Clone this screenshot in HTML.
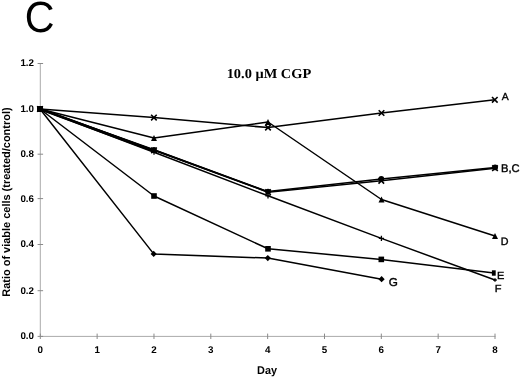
<!DOCTYPE html>
<html><head><meta charset="utf-8"><style>
html,body{margin:0;padding:0;background:#fff;width:520px;height:378px;overflow:hidden}
svg{display:block;will-change:transform}
text{text-rendering:geometricPrecision}
.tk{font-family:"Liberation Sans",sans-serif;font-size:9.8px;font-weight:bold;fill:#000}
.lb{font-family:"Liberation Sans",sans-serif;fill:#000;stroke:#000;stroke-width:0.35px}
.ax{font-family:"Liberation Sans",sans-serif;font-weight:bold;fill:#000}
.ti{font-family:"Liberation Serif",serif;font-weight:bold;fill:#000}
.big{font-family:"Liberation Sans",sans-serif;fill:#000}
</style></head><body>
<svg width="520" height="378" viewBox="0 0 520 378">
<line x1="40.3" y1="63" x2="40.3" y2="336.4" stroke="#ababab" stroke-width="1"/>
<line x1="40.3" y1="336.4" x2="495.5" y2="336.4" stroke="#ababab" stroke-width="1"/>
<line x1="37.6" y1="336.40" x2="43.1" y2="336.40" stroke="#8a8a8a" stroke-width="1"/>
<text x="34" y="339.30" class="tk" text-anchor="end">0.0</text>
<line x1="37.6" y1="290.70" x2="43.1" y2="290.70" stroke="#8a8a8a" stroke-width="1"/>
<text x="34" y="293.60" class="tk" text-anchor="end">0.2</text>
<line x1="37.6" y1="244.50" x2="43.1" y2="244.50" stroke="#8a8a8a" stroke-width="1"/>
<text x="34" y="247.40" class="tk" text-anchor="end">0.4</text>
<line x1="37.6" y1="198.60" x2="43.1" y2="198.60" stroke="#8a8a8a" stroke-width="1"/>
<text x="34" y="201.50" class="tk" text-anchor="end">0.6</text>
<line x1="37.6" y1="154.20" x2="43.1" y2="154.20" stroke="#8a8a8a" stroke-width="1"/>
<text x="34" y="157.10" class="tk" text-anchor="end">0.8</text>
<line x1="37.6" y1="108.85" x2="43.1" y2="108.85" stroke="#8a8a8a" stroke-width="1"/>
<text x="34" y="111.75" class="tk" text-anchor="end">1.0</text>
<line x1="37.6" y1="63.50" x2="43.1" y2="63.50" stroke="#8a8a8a" stroke-width="1"/>
<text x="34" y="66.40" class="tk" text-anchor="end">1.2</text>
<line x1="40.30" y1="333.6" x2="40.30" y2="339" stroke="#8a8a8a" stroke-width="1"/>
<text x="40.30" y="353" class="tk" text-anchor="middle">0</text>
<line x1="97.14" y1="333.6" x2="97.14" y2="339" stroke="#8a8a8a" stroke-width="1"/>
<text x="97.14" y="353" class="tk" text-anchor="middle">1</text>
<line x1="153.97" y1="333.6" x2="153.97" y2="339" stroke="#8a8a8a" stroke-width="1"/>
<text x="153.97" y="353" class="tk" text-anchor="middle">2</text>
<line x1="210.81" y1="333.6" x2="210.81" y2="339" stroke="#8a8a8a" stroke-width="1"/>
<text x="210.81" y="353" class="tk" text-anchor="middle">3</text>
<line x1="267.65" y1="333.6" x2="267.65" y2="339" stroke="#8a8a8a" stroke-width="1"/>
<text x="267.65" y="353" class="tk" text-anchor="middle">4</text>
<line x1="324.49" y1="333.6" x2="324.49" y2="339" stroke="#8a8a8a" stroke-width="1"/>
<text x="324.49" y="353" class="tk" text-anchor="middle">5</text>
<line x1="381.32" y1="333.6" x2="381.32" y2="339" stroke="#8a8a8a" stroke-width="1"/>
<text x="381.32" y="353" class="tk" text-anchor="middle">6</text>
<line x1="438.16" y1="333.6" x2="438.16" y2="339" stroke="#8a8a8a" stroke-width="1"/>
<text x="438.16" y="353" class="tk" text-anchor="middle">7</text>
<line x1="495.00" y1="333.6" x2="495.00" y2="339" stroke="#8a8a8a" stroke-width="1"/>
<text x="495.00" y="353" class="tk" text-anchor="middle">8</text>
<polyline points="40,109 153.9,117.6 268,127.6 381.5,113 494.8,99.8" fill="none" stroke="#000" stroke-width="1.5" stroke-linejoin="round"/>
<polyline points="40,109 154,138 268,122 381.5,199.5 495,236" fill="none" stroke="#000" stroke-width="1.5" stroke-linejoin="round"/>
<polyline points="40,109 154,196 268,248.8 381.3,259.4 494,273" fill="none" stroke="#000" stroke-width="1.5" stroke-linejoin="round"/>
<polyline points="40,109 153.7,253.9 267.8,258.1 381.6,279.2" fill="none" stroke="#000" stroke-width="1.5" stroke-linejoin="round"/>
<polyline points="40,109 154,149.8 268,191.6 381.3,179 495.1,167.4" fill="none" stroke="#000" stroke-width="1.5" stroke-linejoin="round"/>
<polyline points="40,109 154,150.3 268,192.2 381.3,180.8 495,168.2" fill="none" stroke="#000" stroke-width="1.5" stroke-linejoin="round"/>
<polyline points="40,109 154,152.2 268,195.8 381.4,238.4 495,280" fill="none" stroke="#000" stroke-width="1.5" stroke-linejoin="round"/>
<polyline points="40,109 154,151.0" fill="none" stroke="#000" stroke-width="2.4" stroke-linejoin="round"/>
<polyline points="154.0,150.05 268.0,191.89999999999998" fill="none" stroke="#000" stroke-width="1.6" stroke-linejoin="round"/>
<path d="M37.2,106.2L42.8,111.8M37.2,111.8L42.8,106.2" stroke="#000" stroke-width="1.6"/>
<path d="M151.1,114.8L156.70000000000002,120.39999999999999M151.1,120.39999999999999L156.70000000000002,114.8" stroke="#000" stroke-width="1.6"/>
<path d="M265.2,124.8L270.8,130.4M265.2,130.4L270.8,124.8" stroke="#000" stroke-width="1.6"/>
<path d="M378.7,110.2L384.3,115.8M378.7,115.8L384.3,110.2" stroke="#000" stroke-width="1.6"/>
<path d="M492.0,97.0L497.6,102.6M492.0,102.6L497.6,97.0" stroke="#000" stroke-width="1.6"/>
<path d="M40,106.1L43.0,111.9L37.0,111.9Z" fill="#000"/>
<path d="M154,135.1L157.0,140.9L151.0,140.9Z" fill="#000"/>
<path d="M268,119.1L271.0,124.9L265.0,124.9Z" fill="#000"/>
<path d="M381.5,196.6L384.5,202.4L378.5,202.4Z" fill="#000"/>
<path d="M495,233.1L498.0,238.9L492.0,238.9Z" fill="#000"/>
<path d="M151.4,152.2L156.6,152.2M154,149.6L154,154.79999999999998" stroke="#000" stroke-width="1.3"/>
<path d="M265.4,195.8L270.6,195.8M268,193.20000000000002L268,198.4" stroke="#000" stroke-width="1.3"/>
<path d="M378.79999999999995,238.4L384.0,238.4M381.4,235.8L381.4,241.0" stroke="#000" stroke-width="1.3"/>
<path d="M493.2,280L496.8,280M495,278.2L495,281.8" stroke="#000" stroke-width="1.3"/>
<rect x="151.2" y="193.2" width="5.6" height="5.6" fill="#000"/>
<rect x="265.2" y="246.0" width="5.6" height="5.6" fill="#000"/>
<rect x="378.5" y="256.59999999999997" width="5.6" height="5.6" fill="#000"/>
<rect x="491.90000000000003" y="270.3" width="3.8" height="5.4" fill="#000"/>
<path d="M40,105.9L43.1,109L40,112.1L36.9,109Z" fill="#000"/>
<path d="M153.7,250.8L156.79999999999998,253.9L153.7,257.0L150.6,253.9Z" fill="#000"/>
<path d="M267.8,255.00000000000003L270.90000000000003,258.1L267.8,261.20000000000005L264.7,258.1Z" fill="#000"/>
<path d="M381.6,276.09999999999997L384.70000000000005,279.2L381.6,282.3L378.5,279.2Z" fill="#000"/>
<path d="M151.2,147.5L156.8,153.10000000000002M151.2,153.10000000000002L156.8,147.5" stroke="#000" stroke-width="1.6"/>
<path d="M265.2,189.39999999999998L270.8,195.0M265.2,195.0L270.8,189.39999999999998" stroke="#000" stroke-width="1.6"/>
<path d="M378.5,178.0L384.1,183.60000000000002M378.5,183.60000000000002L384.1,178.0" stroke="#000" stroke-width="1.6"/>
<path d="M492.2,165.39999999999998L497.8,171.0M492.2,171.0L497.8,165.39999999999998" stroke="#000" stroke-width="1.6"/>
<circle cx="154" cy="149.8" r="2.9" fill="#000"/>
<circle cx="268" cy="191.6" r="2.9" fill="#000"/>
<circle cx="381.3" cy="179" r="2.9" fill="#000"/>
<circle cx="495.1" cy="167.4" r="2.9" fill="#000"/>
<rect x="37.0" y="106.0" width="6" height="6" fill="#000"/>
<text transform="translate(24.79,31.53) scale(0.9369,0.9896)" class="big" font-size="44">C</text>
<text transform="translate(226.64,77.56) scale(1.0295,0.9796)" class="ti" font-size="14">10.0 &#956;M CGP</text>
<text transform="translate(257.02,373.55) scale(1.0894,1.1268)" class="ax" font-size="10">Day</text>
<text transform="translate(10.43,296.69) scale(1.0701,1.0540) rotate(-90)" class="ax" font-size="10.4">Ratio of viable cells (treated/control)</text>
<text transform="translate(501.80,100.30) scale(1.0415,1.0182)" class="lb" font-size="10">A</text>
<text transform="translate(501.02,172.11) scale(1.1187,1.1152)" class="lb" font-size="10">B,C</text>
<text transform="translate(500.76,244.90) scale(1.0723,1.0764)" class="lb" font-size="10">D</text>
<text transform="translate(497.04,279.40) scale(1.0977,1.0327)" class="lb" font-size="10">E</text>
<text transform="translate(494.63,291.90) scale(1.1077,1.0327)" class="lb" font-size="10">F</text>
<text transform="translate(388.82,285.66) scale(1.1692,1.1368)" class="lb" font-size="10">G</text>
</svg>
</body></html>
